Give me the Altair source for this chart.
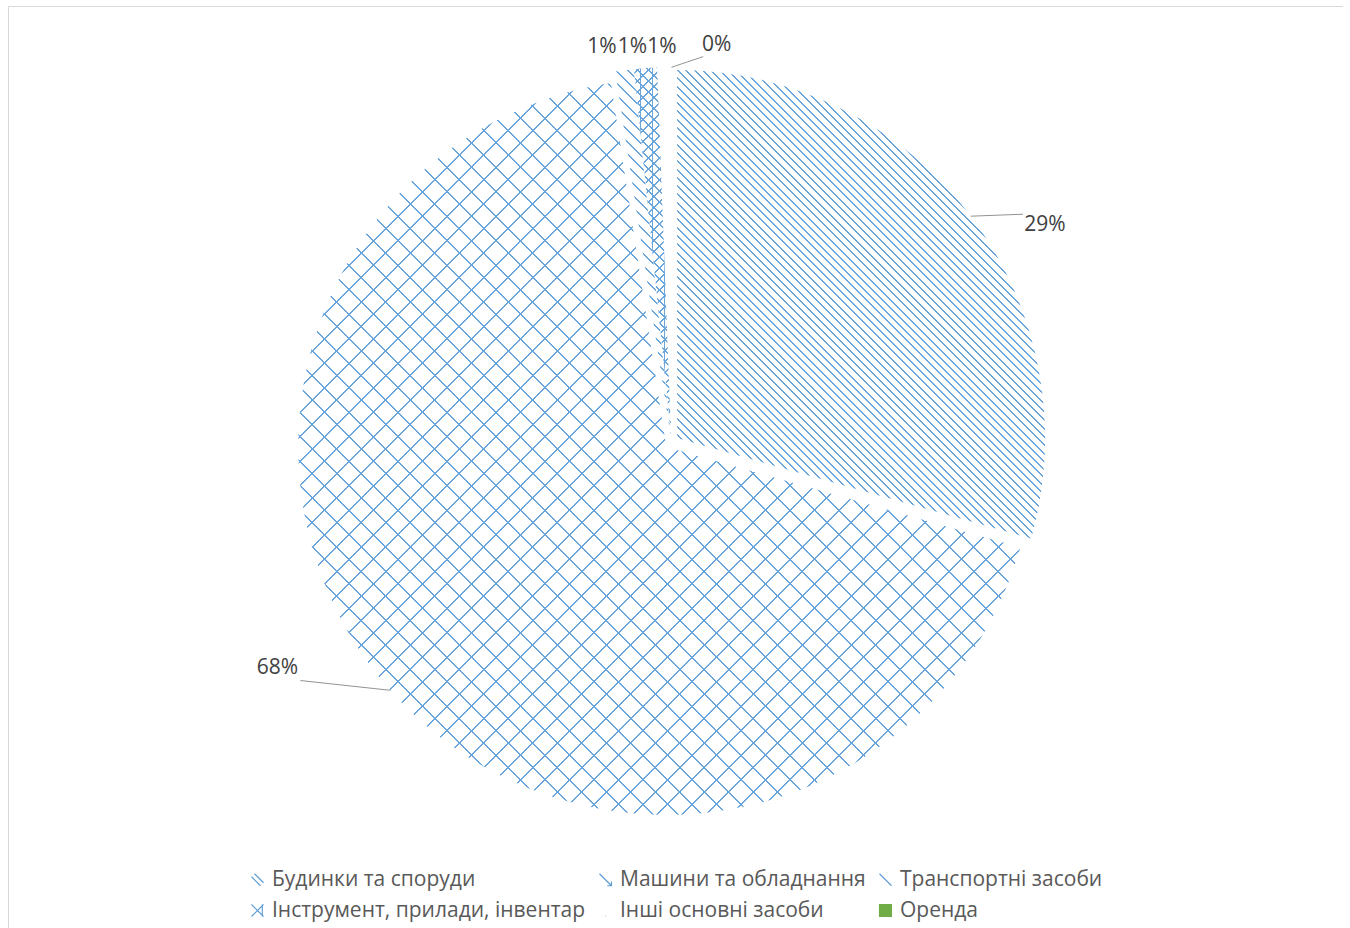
import json
import altair as alt
import pandas as pd

# ---------------- data ----------------
categories = [
    "Будинки та споруди",
    "Машини та обладнання",
    "Транспортні засоби",
    "Інструмент, прилади, інвентар",
    "Інші основні засоби",
    "Оренда",
]
shares = [29.4, 68.2, 0.8, 1.0, 0.6, 0.0]
order = list(range(len(categories)))

# ---------------- layout / style (not data) ----------------
PAD_L, PAD_T = 8, 6
W, H = 1335, 922
CX, CY = 663.5, 436.3          # pie centre inside the plot area
R = 368                        # pie radius
EXPLODE = 7                    # slice explosion distance
LABEL_NUDGE_DEG = [6.9, 11.6, -2.8, -1.7, -0.3, 6.5]
LABEL_RADIUS = [432, 454, 401, 397, 395, 400]
LEADER = [1, 1, 0, 0, 0, 1]
LEADER_END_NUDGE_DEG = [4.1, 8.7, 0, 0, 0, 4.7]
LEADER_END_INSET = 13

# hatch pattern per slice: (direction, horizontal spacing in px)
PATTERNS = [
    [["back", 8.3]],
    [["back", 24.5], ["fwd", 24.5]],
    [["back", 12]],
    [["back", 11], ["fwd", 11], ["vert", 12]],
    [],
    [],
]
HATCH = "#6aa5dc"
GREEN = "#70ad47"
BLUE = "#5b9bd5"
CLEAR = "rgba(255,255,255,0)"
FONT = "Open Sans"

df = pd.DataFrame({"cat": categories, "value": shares, "i": order})

arr = lambda xs: json.dumps(xs)

base = (
    alt.Chart(df)
    .transform_joinaggregate(total="sum(value)")
    .transform_window(cum="sum(value)", sort=[alt.SortField("i", order="ascending")], frame=[None, 0])
    .transform_calculate(a1="2*PI*datum.cum/datum.total")
    .transform_calculate(a0="2*PI*(datum.cum-datum.value)/datum.total")
    .transform_calculate(mid="(datum.a0+datum.a1)/2")
    .transform_calculate(
        ox=f"{CX}+{EXPLODE}*sin(datum.mid)",
        oy=f"{CY}-{EXPLODE}*cos(datum.mid)",
    )
)

# one arc item per hatch line: each carries a tiny 4-stop gradient that paints one stripe
hatch_layer = (
    base.transform_calculate(pats=f"{arr(PATTERNS)}[datum.i]")
    .transform_flatten(["pats"], as_=["pat"])
    .transform_calculate(kind="datum.pat[0]", sp="datum.pat[1]")
    .transform_calculate(
        bw=f"{R}*(max(0, sin(datum.a0), sin(datum.a1), (datum.a0 <= PI/2 && datum.a1 >= PI/2) ? 1 : 0)"
        f" - min(0, sin(datum.a0), sin(datum.a1), (datum.a0 <= 3*PI/2 && datum.a1 >= 3*PI/2) ? -1 : 0))",
        bh=f"{R}*(max(0, -cos(datum.a0), -cos(datum.a1), (datum.a0 <= PI && datum.a1 >= PI) ? 1 : 0)"
        f" - min(0, -cos(datum.a0), -cos(datum.a1)))",
    )
    .transform_calculate(n="ceil((datum.kind == 'vert' ? datum.bw : datum.bw + datum.bh) / datum.sp)")
    .transform_calculate(
        ga="datum.n*datum.sp/(datum.bw*datum.bw + datum.bh*datum.bh)",
        hc="datum.kind == 'vert' ? 1 : 2",
        ks="sequence(0, datum.n)",
    )
    .transform_calculate(
        gy1="datum.kind == 'back' ? 1 : 0",
        gx2="datum.kind == 'vert' ? datum.n*datum.sp/datum.bw : datum.ga*datum.bw",
        gy2="datum.kind == 'back' ? 1 - datum.ga*datum.bh : (datum.kind == 'fwd' ? datum.ga*datum.bh : 0)",
    )
    .transform_flatten(["ks"], as_=["k"])
    .transform_calculate(
        o0="(datum.k + 0.5 - datum.hc/datum.sp/2)/datum.n",
        o1="(datum.k + 0.5 + datum.hc/datum.sp/2)/datum.n",
    )
    .transform_calculate(
        grad="{gradient: 'linear', x1: 0, y1: datum.gy1, x2: datum.gx2, y2: datum.gy2, stops: ["
        f"{{offset: datum.o0, color: '{CLEAR}'}}, {{offset: datum.o0, color: '{HATCH}'}}, "
        f"{{offset: datum.o1, color: '{HATCH}'}}, {{offset: datum.o1, color: '{CLEAR}'}}]}}"
    )
    .mark_arc(radius=R, strokeWidth=0)
    .encode(
        theta=alt.Theta("a0:Q", scale=None, stack=None),
        theta2="a1:Q",
        x=alt.X("ox:Q", scale=None, axis=None),
        y=alt.Y("oy:Q", scale=None, axis=None),
        color=alt.Color("grad:N", scale=None, legend=None),
    )
)

leaders = (
    base.transform_filter(f"{arr(LEADER)}[datum.i] == 1")
    .transform_calculate(
        lsx=f"{CX}+{R + EXPLODE}*sin(datum.mid)",
        lsy=f"{CY}-{R + EXPLODE}*cos(datum.mid)",
        lea=f"datum.mid+{arr(LEADER_END_NUDGE_DEG)}[datum.i]*PI/180",
    )
    .transform_calculate(
        lex=f"{CX}+({arr(LABEL_RADIUS)}[datum.i]-{LEADER_END_INSET})*sin(datum.lea)",
        ley=f"{CY}-({arr(LABEL_RADIUS)}[datum.i]-{LEADER_END_INSET})*cos(datum.lea)",
    )
    .mark_rule(color="#939393", strokeWidth=1)
    .encode(
        x=alt.X("lsx:Q", scale=None, axis=None),
        y=alt.Y("lsy:Q", scale=None, axis=None),
        x2="lex:Q",
        y2="ley:Q",
    )
)

labels = (
    base.transform_calculate(la=f"datum.mid+{arr(LABEL_NUDGE_DEG)}[datum.i]*PI/180")
    .transform_calculate(
        lx=f"{CX}+{arr(LABEL_RADIUS)}[datum.i]*sin(datum.la)",
        ly=f"{CY}-{arr(LABEL_RADIUS)}[datum.i]*cos(datum.la)",
        txt="format(datum.value/datum.total, '.0%')",
    )
    .mark_text(font=FONT, fontSize=21, color="#404040", align="center", baseline="middle")
    .encode(
        x=alt.X("lx:Q", scale=None, axis=None),
        y=alt.Y("ly:Q", scale=None, axis=None),
        text="txt:N",
    )
)

symbol_paths = [
    "M-1,-0.5L0.5,1M-0.5,-1L1,0.5",
    "M-1,-1L1,1M0.3,1L1,1L1,0.3",
    "M-1,-1L1,1",
    "M-1,-1L1,1M-1,1L1,-1M0.8,-1L0.8,1",
    "M0,0.9L0.08,0.9",
    "M-1,-1L1,-1L1,1L-1,1Z",
]
symbol_fill = ["transparent"] * 5 + [GREEN]
symbol_stroke = [BLUE] * 5 + [GREEN]

leg = alt.Legend(
    title=None,
    orient="none",
    legendX=239,
    legendY=863,
    direction="horizontal",
    columns=3,
    columnPadding=9,
    rowPadding=9,
    symbolSize=144,
    symbolStrokeWidth=1.1,
    symbolOpacity=1,
    labelFont=FONT,
    labelFontSize=21,
    labelColor="#595959",
    labelOffset=4,
    labelLimit=500,
)

legend_layer = (
    alt.Chart(df)
    .mark_point(opacity=0)
    .encode(
        x=alt.value(CX),
        y=alt.value(CY),
        shape=alt.Shape("cat:N", sort=categories, scale=alt.Scale(domain=categories, range=symbol_paths), legend=leg),
        fill=alt.Fill("cat:N", sort=categories, scale=alt.Scale(domain=categories, range=symbol_fill), legend=leg),
        stroke=alt.Stroke("cat:N", sort=categories, scale=alt.Scale(domain=categories, range=symbol_stroke), legend=leg),
    )
)

chart = (
    alt.layer(hatch_layer, leaders, labels, legend_layer)
    .properties(
        width=W,
        height=H,
        autosize=alt.AutoSizeParams(type="none"),
        padding={"left": PAD_L, "top": PAD_T, "right": 0, "bottom": 0},
        background="white",
    )
    .configure_view(stroke="#d9d9d9", strokeWidth=1)
)

chart.save("out.html", embed_options={"renderer": "svg", "actions": False})
